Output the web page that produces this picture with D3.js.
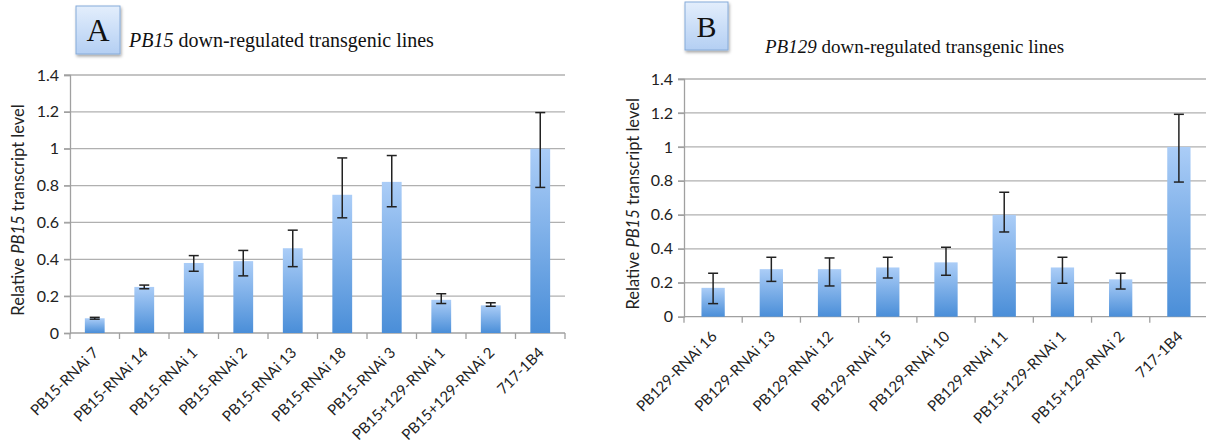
<!DOCTYPE html>
<html>
<head>
<meta charset="utf-8">
<script src="https://cdnjs.cloudflare.com/ajax/libs/d3/7.8.5/d3.min.js"></script>
<style>
  html, body { margin: 0; padding: 0; background: #fff; }
  svg { display: block; }
</style>
</head>
<body>
<svg id="chart" width="1206" height="445"></svg>
<script>
// ---------------- DATA ----------------
const yTicks = [0, 0.2, 0.4, 0.6, 0.8, 1.0, 1.2, 1.4];
const yTickLabels = ["0", "0.2", "0.4", "0.6", "0.8", "1", "1.2", "1.4"];

const catsA = ["PB15-RNAi 7", "PB15-RNAi 14", "PB15-RNAi 1", "PB15-RNAi 2", "PB15-RNAi 13",
               "PB15-RNAi 18", "PB15-RNAi 3", "PB15+129-RNAi 1", "PB15+129-RNAi 2", "717-1B4"];
const valsA = [0.08, 0.25, 0.38, 0.39, 0.46, 0.75, 0.82, 0.18, 0.15, 1.0];
const errLowA  = [0.075, 0.24, 0.335, 0.31, 0.36, 0.625, 0.685, 0.16, 0.145, 0.79];
const errHighA = [0.085, 0.26, 0.42, 0.448, 0.558, 0.95, 0.963, 0.213, 0.164, 1.196];

const catsB = ["PB129-RNAi 16", "PB129-RNAi 13", "PB129-RNAi 12", "PB129-RNAi 15", "PB129-RNAi 10",
               "PB129-RNAi 11", "PB15+129-RNAi 1", "PB15+129-RNAi 2", "717-1B4"];
const valsB = [0.17, 0.28, 0.28, 0.29, 0.32, 0.6, 0.29, 0.22, 1.0];
const errLowB  = [0.077, 0.208, 0.181, 0.228, 0.244, 0.499, 0.197, 0.163, 0.793];
const errHighB = [0.256, 0.35, 0.346, 0.35, 0.409, 0.733, 0.35, 0.256, 1.192];

// ---------------- DRAWING ----------------
const svg = d3.select("#chart");
const defs = svg.append("defs");
const sans = "Lato, 'Open Sans', sans-serif";
const serif = "'Liberation Serif', 'Times New Roman', serif";

const barGrad = defs.append("linearGradient")
  .attr("id", "barGrad").attr("x1", 0).attr("y1", 0).attr("x2", 0).attr("y2", 1);
barGrad.append("stop").attr("offset", "0%").attr("stop-color", "#abcdf7");
barGrad.append("stop").attr("offset", "100%").attr("stop-color", "#4a8ed8");

const boxGrad = defs.append("linearGradient")
  .attr("id", "boxGrad").attr("x1", 0).attr("y1", 0).attr("x2", 0).attr("y2", 1);
boxGrad.append("stop").attr("offset", "0%").attr("stop-color", "#e3eefc");
boxGrad.append("stop").attr("offset", "100%").attr("stop-color", "#b4cff3");

const shadow = defs.append("filter").attr("id", "shadow")
  .attr("x", "-20%").attr("y", "-20%").attr("width", "150%").attr("height", "150%");
shadow.append("feDropShadow").attr("dx", 1).attr("dy", 2).attr("stdDeviation", 1.5)
  .attr("flood-color", "#000").attr("flood-opacity", 0.35);

function panel(cfg) {
  const g = svg.append("g");
  const x = d3.scaleBand().domain(cfg.cats).range([cfg.x0, cfg.x1]).paddingInner(0.6).paddingOuter(0.3);
  const xb = d3.scaleBand().domain(cfg.cats).range([cfg.x0, cfg.x1]);
  const y = d3.scaleLinear().domain([0, 1.4]).range([cfg.yb, cfg.yt]);

  // gridlines
  g.append("g").selectAll("line").data(yTicks.slice(1)).join("line")
    .attr("x1", cfg.x0 - 6).attr("x2", cfg.x1)
    .attr("y1", d => y(d)).attr("y2", d => y(d))
    .attr("stroke", "#b0b0b0").attr("stroke-width", 1.3);

  // y axis
  const yAxis = d3.axisLeft(y).tickValues(yTicks)
    .tickFormat((d, i) => yTickLabels[i]).tickSize(6).tickPadding(5);
  const ya = g.append("g").attr("transform", `translate(${cfg.x0},0)`).call(yAxis);
  ya.select(".domain").attr("stroke", "#a0a0a0").attr("stroke-width", 1.3);
  ya.selectAll(".tick line").attr("stroke", "#a0a0a0").attr("stroke-width", 1.3);
  ya.selectAll(".tick text").attr("font-family", sans)
    .attr("font-size", 16).attr("fill", "#222");

  // x axis line and ticks (between categories)
  g.append("line").attr("x1", cfg.x0).attr("x2", cfg.x1)
    .attr("y1", cfg.yb).attr("y2", cfg.yb).attr("stroke", "#a0a0a0").attr("stroke-width", 1.3);
  const bounds = cfg.cats.map(c => xb(c)).concat([xb(cfg.cats[cfg.cats.length - 1]) + xb.bandwidth()]);
  g.append("g").selectAll("line").data(bounds).join("line")
    .attr("x1", d => d).attr("x2", d => d)
    .attr("y1", cfg.yb).attr("y2", cfg.yb + 6)
    .attr("stroke", "#a0a0a0").attr("stroke-width", 1.3);

  // bars
  g.append("g").selectAll("rect").data(cfg.cats).join("rect")
    .attr("x", c => x(c)).attr("width", x.bandwidth())
    .attr("y", (c, i) => y(cfg.vals[i]))
    .attr("height", (c, i) => y(0) - y(cfg.vals[i]))
    .attr("fill", "url(#barGrad)");

  // error bars
  const eb = g.append("g").attr("stroke", "#222").attr("stroke-width", 1.5);
  cfg.cats.forEach((c, i) => {
    const cx = x(c) + x.bandwidth() / 2;
    eb.append("line").attr("x1", cx).attr("x2", cx)
      .attr("y1", y(cfg.lo[i])).attr("y2", y(cfg.hi[i]));
    [cfg.lo[i], cfg.hi[i]].forEach(v => {
      eb.append("line").attr("x1", cx - 5).attr("x2", cx + 5)
        .attr("y1", y(v)).attr("y2", y(v));
    });
  });

  // x labels
  g.append("g").selectAll("text").data(cfg.cats).join("text")
    .attr("transform", c => `translate(${xb(c) + xb.bandwidth() / 2 + 1},${cfg.yb + 17}) rotate(-45)`)
    .attr("text-anchor", "end").attr("dy", "0.35em")
    .attr("font-family", sans).attr("font-size", 15).attr("fill", "#222")
    .text(c => c);

  // y label
  const yl = g.append("text")
    .attr("transform", `translate(${cfg.ylx},${(cfg.yb + cfg.yt) / 2 + 6}) rotate(-90)`)
    .attr("text-anchor", "middle").attr("dy", "0.35em")
    .attr("font-family", sans).attr("font-size", 16.5).attr("fill", "#222");
  yl.append("tspan").text("Relative ");
  yl.append("tspan").attr("font-style", "italic").text("PB15");
  yl.append("tspan").text(" transcript level");

  // title box
  g.append("rect").attr("x", cfg.bx).attr("y", cfg.by).attr("width", cfg.bw).attr("height", cfg.bh)
    .attr("fill", "url(#boxGrad)").attr("stroke", "#86abd9").attr("stroke-width", 1)
    .attr("filter", "url(#shadow)");
  g.append("text").attr("x", cfg.bx + cfg.bw / 2).attr("y", cfg.by + cfg.bh / 2 + 11)
    .attr("text-anchor", "middle").attr("font-family", serif)
    .attr("font-size", cfg.letterSize).attr("fill", "#111").text(cfg.letter);

  const t = g.append("text").attr("x", cfg.tx).attr("y", cfg.ty)
    .attr("font-family", serif)
    .attr("font-size", cfg.titleSize).attr("fill", "#111");
  t.append("tspan").attr("font-style", "italic").text(cfg.titleGene);
  t.append("tspan").text(" down-regulated transgenic lines");
}

panel({
  cats: catsA, vals: valsA, lo: errLowA, hi: errHighA,
  x0: 70, x1: 565, yb: 333, yt: 75, ylx: 18,
  bx: 76, by: 6, bw: 44, bh: 48, letter: "A", letterSize: 32,
  tx: 129, ty: 47, titleSize: 20, titleGene: "PB15"
});

panel({
  cats: catsB, vals: valsB, lo: errLowB, hi: errHighB,
  x0: 684, x1: 1208, yb: 316.7, yt: 79, ylx: 633,
  bx: 685, by: 2, bw: 43, bh: 48, letter: "B", letterSize: 30,
  tx: 765, ty: 53, titleSize: 19, titleGene: "PB129"
});
</script>
</body>
</html>
